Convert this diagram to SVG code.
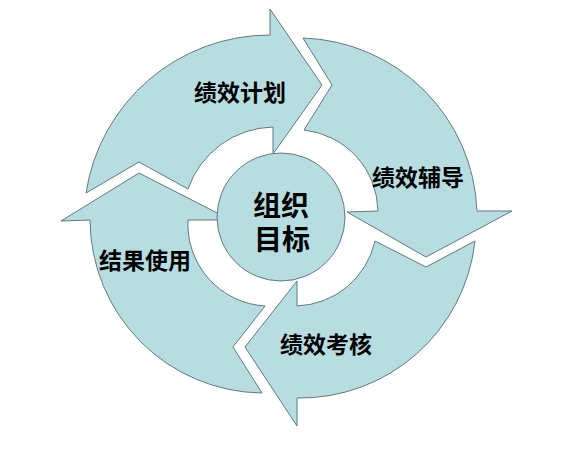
<svg xmlns="http://www.w3.org/2000/svg" width="569" height="450" viewBox="0 0 569 450">
<style>
.arrow{fill:#b8dde1;stroke:#5d7b80;stroke-width:1;stroke-linejoin:miter}
.lbl{font-family:"Noto Sans CJK SC","Noto Sans CJK JP",sans-serif;font-size:23px;font-weight:700;fill:#000;text-anchor:middle;dominant-baseline:central}
.ctr{font-size:28px}
</style>
<rect width="569" height="450" fill="#fff"/>
<g id="connectors">
<g id="arrow-plan">
<path class="arrow" d="M86,193 A186,186 0 0 1 270,35 L270,9 L322,85 L273,154 L273,127 A92,92 0 0 0 188,189 L139,162 Z"/>
<text class="lbl" x="240" y="91">绩效计划</text>
</g>
<g id="arrow-coach">
<path class="arrow" d="M303,38 L332,85 L304,130 A83,83 0 0 1 378,211 L347,212 L426,257 L512,211 L477,211 A180,180 0 0 0 303,38 Z"/>
<text class="lbl" x="418" y="176">绩效辅导</text>
</g>
<g id="arrow-review">
<path class="arrow" d="M475,241 A176,176 0 0 1 297,398 L297,426 L245,347 L297,281 L297,306 A83,83 0 0 0 375,241 L426,267 Z"/>
<text class="lbl" x="326" y="343">绩效考核</text>
</g>
<g id="arrow-use">
<path class="arrow" d="M262,393 A174,174 0 0 1 90,220 L61,221 L139,173 L231,220 L188,220 A82,82 0 0 0 265,306 L233,347 Z"/>
<text class="lbl" x="145" y="259">结果使用</text>
</g>
</g>
<g id="node-goal">
<circle class="arrow" cx="281" cy="217" r="64"/>
<text class="lbl ctr"><tspan x="281" y="204">组织</tspan><tspan x="282" y="238">目标</tspan></text>
</g>
</svg>
